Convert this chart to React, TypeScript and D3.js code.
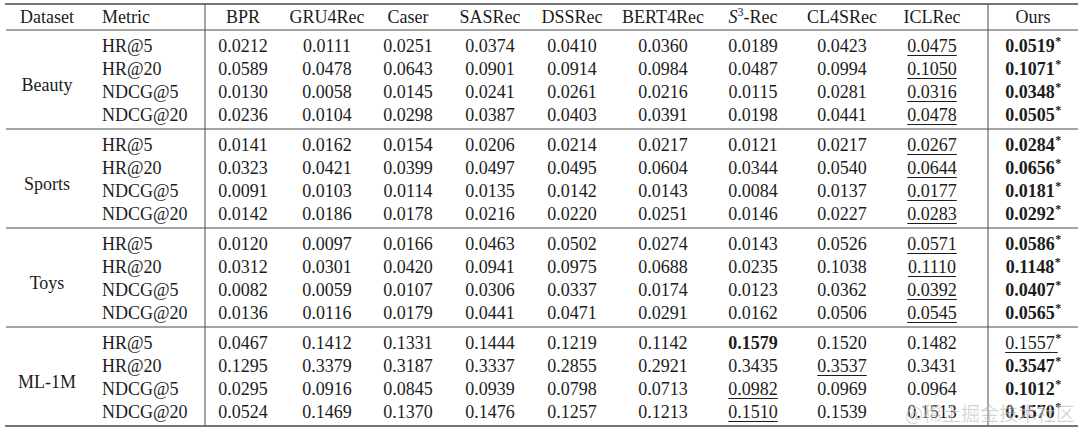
import React, { useEffect } from 'react';
import * as d3 from 'd3';

const datasets = ['Beauty', 'Sports', 'Toys', 'ML-1M'];
const metrics = ['HR@5', 'HR@20', 'NDCG@5', 'NDCG@20'];
const models = ['BPR', 'GRU4Rec', 'Caser', 'SASRec', 'DSSRec', 'BERT4Rec', 'S3-Rec', 'CL4SRec', 'ICLRec', 'Ours'];

const beauty = [
  [0.0212, 0.0111, 0.0251, 0.0374, 0.0410, 0.0360, 0.0189, 0.0423, 0.0475, 0.0519],
  [0.0589, 0.0478, 0.0643, 0.0901, 0.0914, 0.0984, 0.0487, 0.0994, 0.1050, 0.1071],
  [0.0130, 0.0058, 0.0145, 0.0241, 0.0261, 0.0216, 0.0115, 0.0281, 0.0316, 0.0348],
  [0.0236, 0.0104, 0.0298, 0.0387, 0.0403, 0.0391, 0.0198, 0.0441, 0.0478, 0.0505],
];
const sports = [
  [0.0141, 0.0162, 0.0154, 0.0206, 0.0214, 0.0217, 0.0121, 0.0217, 0.0267, 0.0284],
  [0.0323, 0.0421, 0.0399, 0.0497, 0.0495, 0.0604, 0.0344, 0.0540, 0.0644, 0.0656],
  [0.0091, 0.0103, 0.0114, 0.0135, 0.0142, 0.0143, 0.0084, 0.0137, 0.0177, 0.0181],
  [0.0142, 0.0186, 0.0178, 0.0216, 0.0220, 0.0251, 0.0146, 0.0227, 0.0283, 0.0292],
];
const toys = [
  [0.0120, 0.0097, 0.0166, 0.0463, 0.0502, 0.0274, 0.0143, 0.0526, 0.0571, 0.0586],
  [0.0312, 0.0301, 0.0420, 0.0941, 0.0975, 0.0688, 0.0235, 0.1038, 0.1110, 0.1148],
  [0.0082, 0.0059, 0.0107, 0.0306, 0.0337, 0.0174, 0.0123, 0.0362, 0.0392, 0.0407],
  [0.0136, 0.0116, 0.0179, 0.0441, 0.0471, 0.0291, 0.0162, 0.0506, 0.0545, 0.0565],
];
const ml1m = [
  [0.0467, 0.1412, 0.1331, 0.1444, 0.1219, 0.1142, 0.1579, 0.1520, 0.1482, 0.1557],
  [0.1295, 0.3379, 0.3187, 0.3337, 0.2855, 0.2921, 0.3435, 0.3537, 0.3431, 0.3547],
  [0.0295, 0.0916, 0.0845, 0.0939, 0.0798, 0.0713, 0.0982, 0.0969, 0.0964, 0.1012],
  [0.0524, 0.1469, 0.1370, 0.1476, 0.1257, 0.1213, 0.1510, 0.1539, 0.1513, 0.1570],
];
const tables = [beauty, sports, toys, ml1m];

// second-best (underlined) model per dataset/metric, as printed
const underlineBeauty = ['ICLRec', 'ICLRec', 'ICLRec', 'ICLRec'];
const underlineSports = ['ICLRec', 'ICLRec', 'ICLRec', 'ICLRec'];
const underlineToys = ['ICLRec', 'ICLRec', 'ICLRec', 'ICLRec'];
const underlineML = ['Ours', 'CL4SRec', 'S3-Rec', 'S3-Rec'];
const underlines = [underlineBeauty, underlineSports, underlineToys, underlineML];

const significant = 'Ours';
const watermark = '@稀土掘金技术社区';

// layout
const W = 1080;
const H = 433;
const FONT = '"Liberation Serif", "Times New Roman", serif';
const FS = 18;
const colCenters = [243, 327, 408, 490, 572, 663, 753, 842, 932, 1033];
const datasetX = 47;
const metricX = 102;
const vLines = [205, 988];
const topY = 4;
const headLineY = 30;
const groupH = 99;
const rowPad = 15;
const rowH = 23;
const capShift = 6.5;
const textColor = '#1c1c1c';
const ruleColor = '#4a4a4a';

let ctx: CanvasRenderingContext2D | null = null;
function measure(text: string, bold: boolean) {
  if (!ctx) ctx = document.createElement('canvas').getContext('2d');
  if (!ctx) return text.length * FS * 0.5;
  ctx.font = `${bold ? 'bold ' : ''}${FS}px ${FONT}`;
  return ctx.measureText(text).width;
}

export default function App() {
  useEffect(() => {
    document.body.style.margin = '0';
  }, []);

  const fmt = d3.format('.4f');
  const x = d3.scaleOrdinal<string, number>().domain(models).range(colCenters);
  const groupTop = d3.scaleBand<string>().domain(datasets).range([headLineY, headLineY + groupH * datasets.length]).padding(0);
  const rowY = d3.scaleLinear().domain([0, 1]).range([rowPad, rowPad + rowH]);
  const bottomY = headLineY + groupH * datasets.length;

  const cells: React.ReactNode[] = [];
  datasets.forEach((ds, gi) => {
    const tbl = tables[gi];
    const g0 = groupTop(ds) as number;
    cells.push(
      <text key={`ds-${ds}`} x={datasetX} y={g0 + groupH / 2 + capShift + 5} textAnchor="middle">{ds}</text>
    );
    metrics.forEach((m, ri) => {
      const cy = g0 + rowY(ri);
      const by = cy + capShift;
      cells.push(<text key={`m-${ds}-${m}`} x={metricX} y={by}>{m}</text>);
      const row = tbl[ri];
      const maxV = d3.max(row) as number;
      models.forEach((mod, ci) => {
        const v = row[ci];
        const s = fmt(v);
        const bold = v === maxV;
        const star = mod === significant;
        const under = underlines[gi][ri] === mod;
        const cx = x(mod);
        const numW = measure(s, bold);
        const starW = star ? 6 : 0;
        const totalW = numW + starW;
        const left = cx - totalW / 2;
        cells.push(
          <text key={`v-${ds}-${m}-${mod}`} x={left} y={by} fontWeight={bold ? 'bold' : 'normal'}>
            {s}
            {star && <tspan dx={0.5} dy={-7} fontSize={12} fontWeight="bold">*</tspan>}
          </text>
        );
        if (under) {
          cells.push(
            <line key={`u-${ds}-${m}-${mod}`} x1={left} x2={left + numW + (star ? starW * 0.5 : 0)} y1={by + 4} y2={by + 4}
              stroke={textColor} strokeWidth={1} />
          );
        }
      });
    });
  });

  return (
    <svg width={W} height={H} style={{ display: 'block', position: 'absolute', left: 0, top: 0, background: '#fff' }}
      fontFamily={FONT} fontSize={FS} fill={textColor}>
      <rect x={0} y={0} width={W} height={H} fill="#fff" />
      {/* rules */}
      <line x1={5} x2={1078} y1={topY} y2={topY} stroke={ruleColor} strokeWidth={1.6} />
      <line x1={6} x2={1078} y1={headLineY} y2={headLineY} stroke={ruleColor} strokeWidth={1} />
      {datasets.slice(1).map((ds) => (
        <line key={`gl-${ds}`} x1={6} x2={1078} y1={groupTop(ds) as number} y2={groupTop(ds) as number} stroke={ruleColor} strokeWidth={1} />
      ))}
      <line x1={5} x2={1078} y1={bottomY} y2={bottomY} stroke={ruleColor} strokeWidth={1.6} />
      {vLines.map((vx) => (
        <line key={`vl-${vx}`} x1={vx} x2={vx} y1={topY} y2={bottomY} stroke={ruleColor} strokeWidth={1} />
      ))}
      {/* header */}
      <text x={datasetX} y={16 + capShift} textAnchor="middle">Dataset</text>
      <text x={metricX} y={16 + capShift}>Metric</text>
      {models.map((mod) => (
        mod === 'S3-Rec' ? (
          <text key={`h-${mod}`} x={x(mod)} y={16 + capShift} textAnchor="middle">
            <tspan fontStyle="italic">S</tspan>
            <tspan dy={-7} fontSize={12}>3</tspan>
            <tspan dy={7}>-Rec</tspan>
          </text>
        ) : (
          <text key={`h-${mod}`} x={x(mod)} y={16 + capShift} textAnchor="middle">{mod}</text>
        )
      ))}
      {cells}
      <text x={1075} y={421} textAnchor="end" fontFamily='"Noto Sans CJK SC", sans-serif' fontSize={19}
        fill="#8a8a8a" fillOpacity={0.45} stroke="#ffffff" strokeOpacity={0.5} strokeWidth={0.6}>{watermark}</text>
    </svg>
  );
}
